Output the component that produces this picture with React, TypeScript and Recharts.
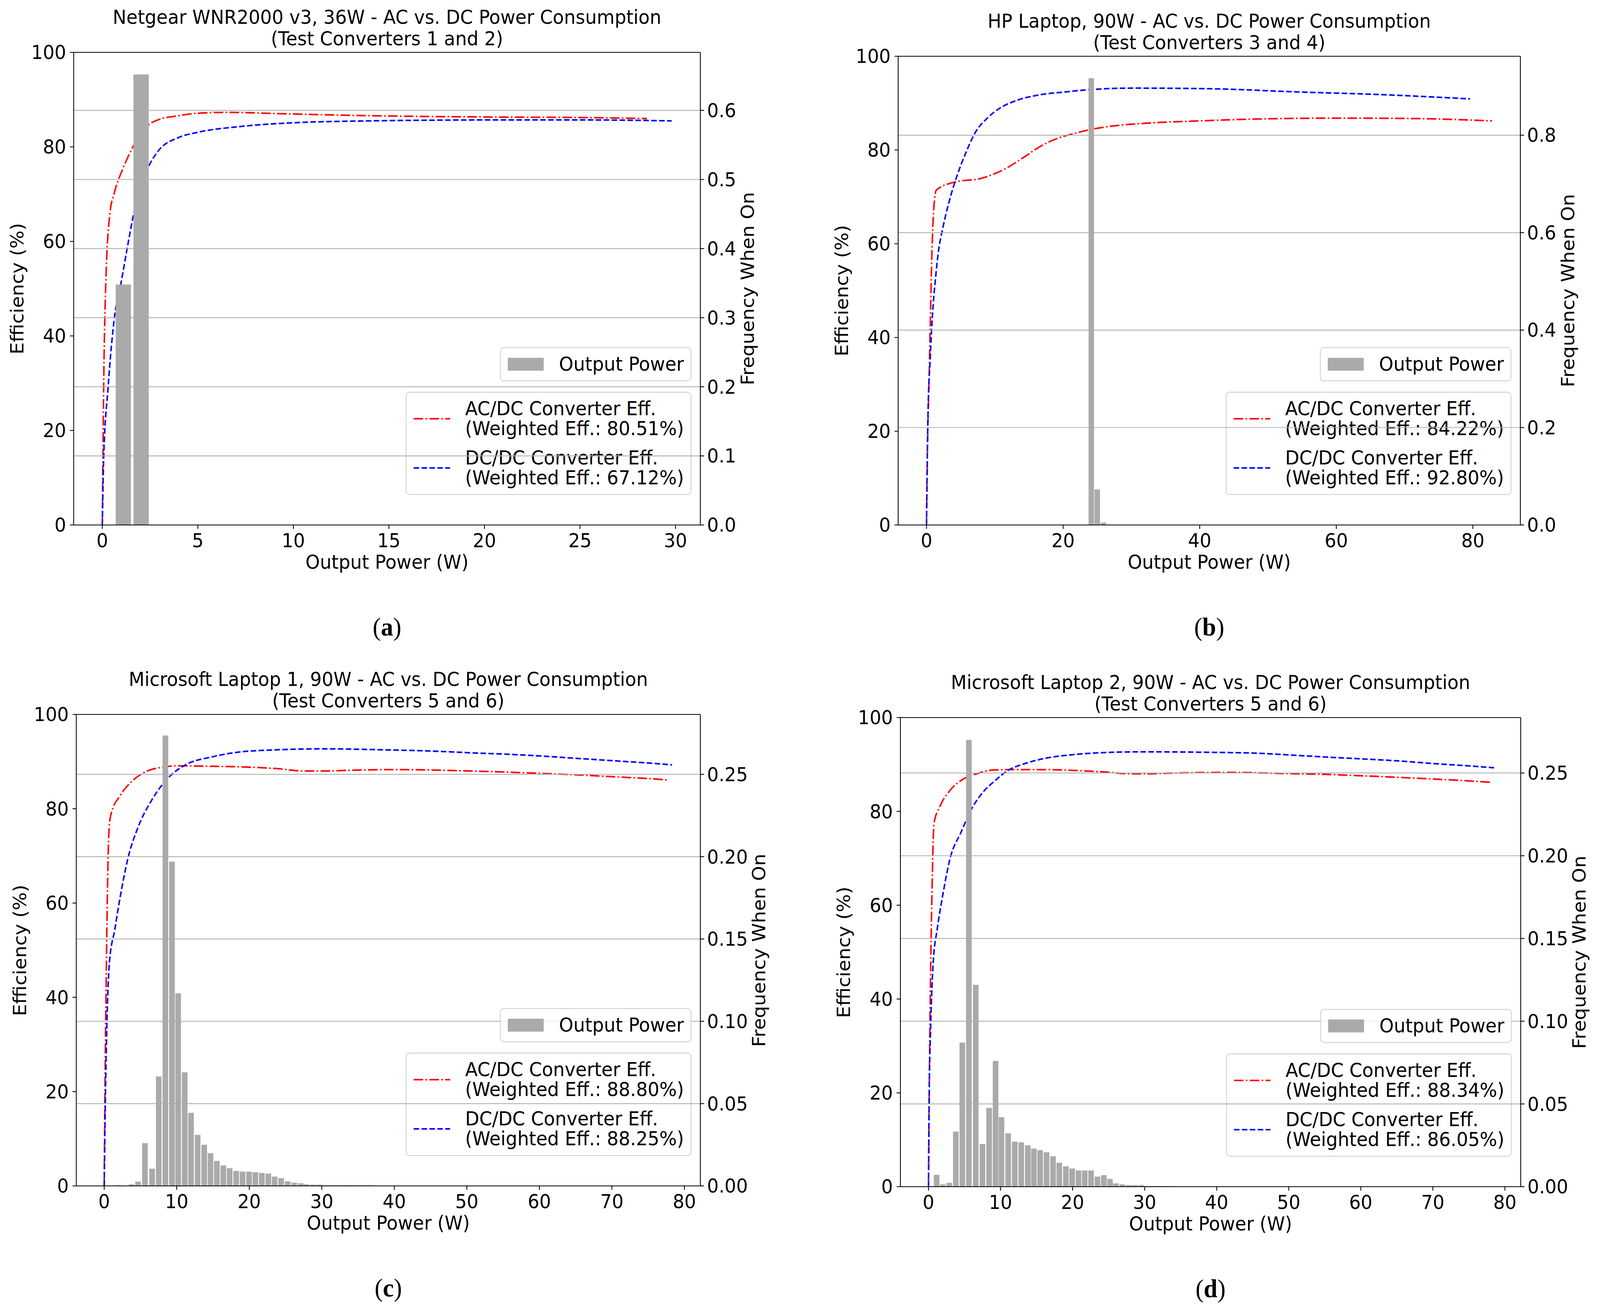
import React from 'react';
import { ComposedChart, Line, Bar, XAxis, YAxis, CartesianGrid, ReferenceLine } from 'recharts';

// (a) Netgear WNR2000 v3, 36W
const aAcW = [0, 0.07, 0.18, 0.4, 0.63, 1.09, 1.7, 2.44, 2.9, 4.0, 4.93, 6.5, 9.5, 14, 20.8, 25.3, 28.5];
const aAcEff = [0, 29, 51, 66, 70.3, 75.5, 80.7, 84.7, 85.7, 86.6, 87.1, 87.3, 87.0, 86.6, 86.3, 86.2, 86.0];
const aDcW = [0, 0.07, 0.3, 0.63, 0.97, 1.3, 1.65, 2.33, 2.9, 4.0, 4.9, 7.2, 9.5, 14, 20.8, 25, 29.8];
const aDcEff = [0, 14, 29, 43.8, 51, 58.5, 66, 75, 79, 82, 83, 84.3, 85, 85.5, 85.7, 85.7, 85.5];
const aBinW = [1.1, 2.03];
const aBinFreq = [0.348, 0.652];

// (b) HP Laptop, 90W
const bAcW = [0, 0.17, 0.34, 0.54, 0.74, 0.98, 1.28, 1.4, 3.98, 8.15, 9.9, 11.8, 14.3, 16.7, 19.2, 21.6, 24.1, 27.8, 33.1, 39.8, 48.1, 60, 71.9, 82.8];
const bAcEff = [0, 19, 28.8, 42, 55.3, 65.3, 70.6, 71.4, 73.1, 74, 74.9, 76.2, 78.5, 80.8, 82.5, 83.5, 84.4, 85.2, 85.8, 86.2, 86.6, 86.8, 86.7, 86.2];
const bDcW = [0, 0.2, 0.54, 0.9, 1.28, 1.77, 2.38, 3.24, 4.47, 5.7, 7.17, 8.9, 10.6, 13.05, 16.7, 20.4, 24.1, 30.3, 42.2, 54, 66, 79.6];
const bDcEff = [0, 22.2, 35.5, 45.4, 52, 58.6, 63.3, 68.6, 74.5, 79.2, 83.8, 86.8, 88.8, 90.5, 91.8, 92.4, 92.9, 93.2, 93.05, 92.4, 91.85, 90.9];
const bBinW = [24.13, 25.0, 25.9];
const bBinFreq = [0.917, 0.073, 0.005];

// (c) Microsoft Laptop 1, 90W
const cAcW = [0, 0.1, 0.25, 0.43, 0.65, 0.9, 2.2, 3.6, 5.8, 8.0, 10.1, 14.9, 20.3, 23.9, 27.5, 30.1, 34.8, 40.2, 45.7, 50.4, 55, 60, 65, 70, 75, 77.8];
const cAcEff = [0, 20, 40.5, 61, 75, 78.6, 82.8, 85.5, 87.9, 88.8, 89.1, 89.0, 88.8, 88.5, 88.0, 88.0, 88.2, 88.3, 88.2, 88.0, 87.8, 87.5, 87.2, 86.8, 86.4, 86.1];
const cDcW = [0, 0.18, 0.36, 0.72, 1.45, 2.17, 3.26, 4.7, 6.5, 9.06, 11.2, 14.9, 18.5, 23.9, 30.1, 38.4, 45.7, 51.4, 55, 60, 65, 70, 75, 78.3];
const cDcEff = [0, 20, 33.6, 47.4, 54.3, 61, 69.4, 76.2, 81.7, 86.9, 89.3, 91, 92, 92.5, 92.7, 92.5, 92.2, 91.8, 91.6, 91.2, 90.7, 90.2, 89.7, 89.3];
const cBinW = [1.99, 3.8, 4.67, 5.62, 6.61, 7.52, 8.44, 9.35, 10.2, 11.1, 11.97, 12.88, 13.79, 14.66, 15.54, 16.43, 17.3, 18.2, 19.08, 19.98, 20.85, 21.74, 22.63, 23.5, 24.4, 25.3, 26.2, 27.1, 27.9, 28.8, 29.7, 30.6, 31.5, 32.4, 33.3, 34.1, 35.0, 35.9, 36.8];
const cBinFreq = [0.0004, 0.001, 0.0026, 0.026, 0.0105, 0.0665, 0.2736, 0.197, 0.117, 0.069, 0.0444, 0.031, 0.025, 0.0199, 0.0152, 0.0124, 0.0108, 0.0091, 0.0087, 0.0087, 0.0083, 0.0079, 0.0075, 0.0057, 0.0047, 0.0028, 0.002, 0.0016, 0.001, 0.0008, 0.0008, 0.0004, 0.0004, 0.0004, 0.0004, 0.0004, 0.0004, 0.0004, 0.0004];

// (d) Microsoft Laptop 2, 90W
const dAcW = [0, 0.1, 0.25, 0.47, 0.77, 1.57, 3.0, 4.85, 6.67, 8.85, 11, 16.5, 22, 24.5, 27.4, 30, 34.7, 42, 51.5, 55, 60, 65.3, 70, 75, 78];
const dAcEff = [0, 20, 41, 61.7, 77.5, 81, 84.5, 86.9, 88, 88.8, 88.9, 88.9, 88.6, 88.4, 88.05, 88, 88.2, 88.3, 88, 87.9, 87.6, 87.25, 86.9, 86.5, 86.2];
const dDcW = [0, 0.1, 0.3, 0.66, 1.2, 1.93, 3.0, 4.5, 5.9, 7.4, 9.2, 11, 13.6, 16.5, 20.1, 25.6, 30, 38.4, 45.6, 51.5, 55, 60, 65.3, 70, 75, 78.5];
const dDcEff = [0, 20, 34, 47.9, 54.8, 61.7, 70, 75.5, 80.3, 83.8, 86.5, 88.7, 90.3, 91.4, 92.1, 92.6, 92.7, 92.6, 92.4, 91.9, 91.6, 91.2, 90.75, 90.2, 89.7, 89.3];
const dBinW = [1.13, 2.0, 2.88, 3.79, 4.7, 5.61, 6.56, 7.49, 8.42, 9.31, 10.13, 11.06, 11.97, 12.88, 13.79, 14.63, 15.5, 16.39, 17.29, 18.16, 19.07, 19.94, 20.82, 21.69, 22.57, 23.46, 24.34, 25.19, 26.0, 26.9, 27.76, 28.6, 29.5, 30.4, 31.3, 32.2, 33.1];
const dBinFreq = [0.0072, 0.0014, 0.0023, 0.0333, 0.0871, 0.27, 0.122, 0.0258, 0.0476, 0.076, 0.042, 0.0323, 0.0272, 0.0268, 0.025, 0.023, 0.0221, 0.0208, 0.0184, 0.0145, 0.0123, 0.011, 0.0098, 0.0098, 0.0098, 0.0061, 0.007, 0.0047, 0.002, 0.0014, 0.001, 0.001, 0.001, 0.0004, 0.0004, 0.0004, 0.0004];

const effTicks = [0, 20, 40, 60, 80, 100];

const FONT = '"DejaVu Sans", sans-serif';
const FS = 49;
const PAGE_W = 4279;
const PAGE_H = 3346;
const LW = 180; // left axis width
const RW = 200; // right axis width
const TOP = 40;
const XH = 130;
const RED = '#ff0000';
const BLUE = '#0000ff';
const GRAY = '#aaaaaa';
const GRID = '#b0b0b0';
const AC_DASH = '25.6 6.4 4 6.4';
const DC_DASH = '14.8 6.4';

const pts = (xs: number[], ys: number[]) => xs.map((x, i) => ({ x, v: ys[i] }));
const bins = (xs: number[], fs: number[]) => xs.map((x, i) => ({ x, f: fs[i] }));

const panels = [
  {
    tag: 'a',
    title: ['Netgear WNR2000 v3, 36W - AC vs. DC Power Consumption', '(Test Converters 1 and 2)'],
    left: 197, top: 134, right: 1873, bottom: 1344,
    xDomain: [-1.5, 31.3], xTicks: [0, 5, 10, 15, 20, 25, 30],
    fTop: 0.684, fTicks: [0, 0.1, 0.2, 0.3, 0.4, 0.5, 0.6], fDigits: 1, rLabel: 127,
    barWidth: 0.8,
    ac: pts(aAcW, aAcEff), dc: pts(aDcW, aDcEff), bins: bins(aBinW, aBinFreq),
    acW: '80.51%', dcW: '67.12%',
  },
  {
    tag: 'b',
    title: ['HP Laptop, 90W - AC vs. DC Power Consumption', '(Test Converters 3 and 4)'],
    left: 2402, top: 144, right: 4066, bottom: 1344,
    xDomain: [-4.15, 86.95], xTicks: [0, 20, 40, 60, 80],
    fTop: 0.962, fTicks: [0, 0.2, 0.4, 0.6, 0.8], fDigits: 1, rLabel: 128,
    barWidth: 0.8,
    ac: pts(bAcW, bAcEff), dc: pts(bDcW, bDcEff), bins: bins(bBinW, bBinFreq),
    acW: '84.22%', dcW: '92.80%',
  },
  {
    tag: 'c',
    title: ['Microsoft Laptop 1, 90W - AC vs. DC Power Consumption', '(Test Converters 5 and 6)'],
    left: 204, top: 1829, right: 1873, bottom: 3036,
    xDomain: [-3.85, 82.2], xTicks: [0, 10, 20, 30, 40, 50, 60, 70, 80],
    fTop: 0.2864, fTicks: [0, 0.05, 0.1, 0.15, 0.2, 0.25], fDigits: 2, rLabel: 157,
    barWidth: 0.78,
    ac: pts(cAcW, cAcEff), dc: pts(cDcW, cDcEff), bins: bins(cBinW, cBinFreq),
    acW: '88.80%', dcW: '88.25%',
  },
  {
    tag: 'd',
    title: ['Microsoft Laptop 2, 90W - AC vs. DC Power Consumption', '(Test Converters 5 and 6)'],
    left: 2408, top: 1837, right: 4067, bottom: 3038,
    xDomain: [-3.9, 82.2], xTicks: [0, 10, 20, 30, 40, 50, 60, 70, 80],
    fTop: 0.2835, fTicks: [0, 0.05, 0.1, 0.15, 0.2, 0.25], fDigits: 2, rLabel: 157,
    barWidth: 0.78,
    ac: pts(dAcW, dAcEff), dc: pts(dDcW, dDcEff), bins: bins(dBinW, dBinFreq),
    acW: '88.34%', dcW: '86.05%',
  },
];

// draws each histogram bar centred on the library's x position with the real bin width
const HistRect = (props: any) => {
  const { x, y, width, height, barPx } = props;
  if (!(height > 0)) return <g />;
  const cx = x + width / 2;
  return <rect x={cx - barPx / 2} y={y} width={barPx} height={height} fill={GRAY} />;
};

const axisLine = { stroke: '#000', strokeWidth: 2.2 };
const tickStyle = { fontSize: FS, fill: '#000', fontFamily: FONT };

const legendBox: React.CSSProperties = {
  position: 'absolute',
  border: '2.2px solid #cccccc',
  borderRadius: 10,
  background: 'rgba(255,255,255,0.8)',
  fontSize: FS,
  whiteSpace: 'pre',
};

function Panel({ p }: { p: any }) {
  const plotW = p.right - p.left;
  const plotH = p.bottom - p.top;
  const pxPerW = plotW / (p.xDomain[1] - p.xDomain[0]);
  const barPx = p.barWidth * pxPerW;
  const cx = (p.left + p.right) / 2;
  const cy = (p.top + p.bottom) / 2;

  const entries = [
    { label: 'AC/DC Converter Eff.\n(Weighted Eff.: ' + p.acW + ')', color: RED, dash: AC_DASH },
    { label: 'DC/DC Converter Eff.\n(Weighted Eff.: ' + p.dcW + ')', color: BLUE, dash: DC_DASH },
  ];

  return (
    <>
      {/* title */}
      <div style={{ position: 'absolute', left: cx - 1500, width: 3000, top: p.top - 117, textAlign: 'center', fontSize: FS, lineHeight: '55px', whiteSpace: 'nowrap' }}>
        {p.title[0]}
        <br />
        {p.title[1]}
      </div>

      {/* line legend sits under the twin axis layer */}
      <div style={{ ...legendBox, right: PAGE_W - (p.right - 24), bottom: PAGE_H - (p.bottom - 77), padding: '16px 18px 16px 19px' }}>
        {entries.map((e, i) => (
          <div key={i} style={{ display: 'flex', alignItems: 'center', marginTop: i ? 24 : 0 }}>
            <svg width={98} height={10} style={{ flex: 'none' }}>
              <line x1={0} y1={5} x2={98} y2={5} stroke={e.color} strokeWidth={4} strokeDasharray={e.dash} />
            </svg>
            <div style={{ marginLeft: 40, lineHeight: '51px' }}>{e.label}</div>
          </div>
        ))}
      </div>

      <div style={{ position: 'absolute', left: p.left - LW, top: p.top - TOP }}>
        <ComposedChart
          width={LW + plotW + RW}
          height={TOP + plotH + XH}
          data={p.bins}
          margin={{ top: TOP, right: 0, bottom: 0, left: 0 }}
        >
          <XAxis
            type="number"
            dataKey="x"
            domain={p.xDomain}
            ticks={p.xTicks}
            interval={0}
            allowDataOverflow
            height={XH}
            axisLine={axisLine}
            tickLine={axisLine}
            tickSize={10}
            tickMargin={12}
            tick={tickStyle}
          />
          <YAxis
            yAxisId="eff"
            orientation="left"
            domain={[0, 100]}
            ticks={effTicks}
            interval={0}
            allowDataOverflow
            width={LW}
            axisLine={axisLine}
            tickLine={axisLine}
            tickSize={10}
            tickMargin={10}
            tick={tickStyle}
          />
          <YAxis
            yAxisId="freq"
            orientation="right"
            domain={[0, p.fTop]}
            ticks={p.fTicks}
            interval={0}
            allowDataOverflow
            width={RW}
            axisLine={axisLine}
            tickLine={axisLine}
            tickSize={10}
            tickMargin={8}
            tick={tickStyle}
            tickFormatter={(v: number) => v.toFixed(p.fDigits)}
          />
          <Line yAxisId="eff" data={p.ac} dataKey="v" type="monotone" stroke={RED} strokeWidth={4} strokeDasharray={AC_DASH} dot={false} isAnimationActive={false} zIndex={100} />
          <Line yAxisId="eff" data={p.dc} dataKey="v" type="monotone" stroke={BLUE} strokeWidth={4} strokeDasharray={DC_DASH} dot={false} isAnimationActive={false} zIndex={100} />
          <CartesianGrid yAxisId="freq" vertical={false} stroke={GRID} strokeWidth={2.2} zIndex={150} />
          <Bar
            yAxisId="freq"
            dataKey="f"
            barSize={barPx}
            fill={GRAY}
            isAnimationActive={false}
            zIndex={200}
            shape={(sp: any) => <HistRect {...sp} barPx={barPx} />}
          />
          <ReferenceLine yAxisId="eff" y={100} stroke="#000" strokeWidth={2.2} />
        </ComposedChart>
      </div>

      {/* bar legend on top */}
      <div style={{ ...legendBox, right: PAGE_W - (p.right - 24), bottom: PAGE_H - (p.bottom - 368), padding: '16px 18px 16px 19px', display: 'flex', alignItems: 'center' }}>
        <div style={{ width: 96, height: 33, background: GRAY, flex: 'none' }} />
        <div style={{ marginLeft: 41, lineHeight: '51px' }}>Output Power</div>
      </div>

      {/* axis labels */}
      <div style={{ position: 'absolute', left: cx, top: p.bottom + 95, transform: 'translate(-50%, -50%)', fontSize: FS, whiteSpace: 'nowrap' }}>
        Output Power (W)
      </div>
      <div style={{ position: 'absolute', left: p.left - 151, top: cy, transform: 'translate(-50%, -50%) rotate(-90deg)', fontSize: FS, whiteSpace: 'nowrap' }}>
        Efficiency (%)
      </div>
      <div style={{ position: 'absolute', left: p.right + p.rLabel, top: cy, transform: 'translate(-50%, -50%) rotate(-90deg)', fontSize: FS, whiteSpace: 'nowrap' }}>
        Frequency When On
      </div>

      {/* caption */}
      <div style={{ position: 'absolute', left: cx, top: p.bottom + 261, transform: 'translate(-50%, -50%)', fontFamily: '"Liberation Serif", serif', fontSize: 66, whiteSpace: 'nowrap' }}>
        (<b>{p.tag}</b>)
      </div>
    </>
  );
}

export default function App() {
  // the browser window is narrower than the figure, so squeeze the figure to fit it
  const vw = typeof window !== 'undefined' ? window.innerWidth : PAGE_W;
  const vh = typeof window !== 'undefined' ? window.innerHeight : PAGE_H;
  const sx = Math.min(1, vw / PAGE_W);
  const sy = Math.min(1, vh / PAGE_H);
  return (
    <div style={{ position: 'fixed', left: 0, top: 0, width: '100vw', height: '100vh', overflow: 'hidden', background: '#fff' }}>
      <div
        style={{
          position: 'absolute',
          left: 0,
          top: 0,
          width: PAGE_W,
          height: PAGE_H,
          background: '#fff',
          fontFamily: FONT,
          color: '#000',
          transform: `scale(${sx}, ${sy})`,
          transformOrigin: '0 0',
        }}
      >
        {panels.map((p) => (
          <Panel key={p.tag} p={p} />
        ))}
      </div>
    </div>
  );
}
